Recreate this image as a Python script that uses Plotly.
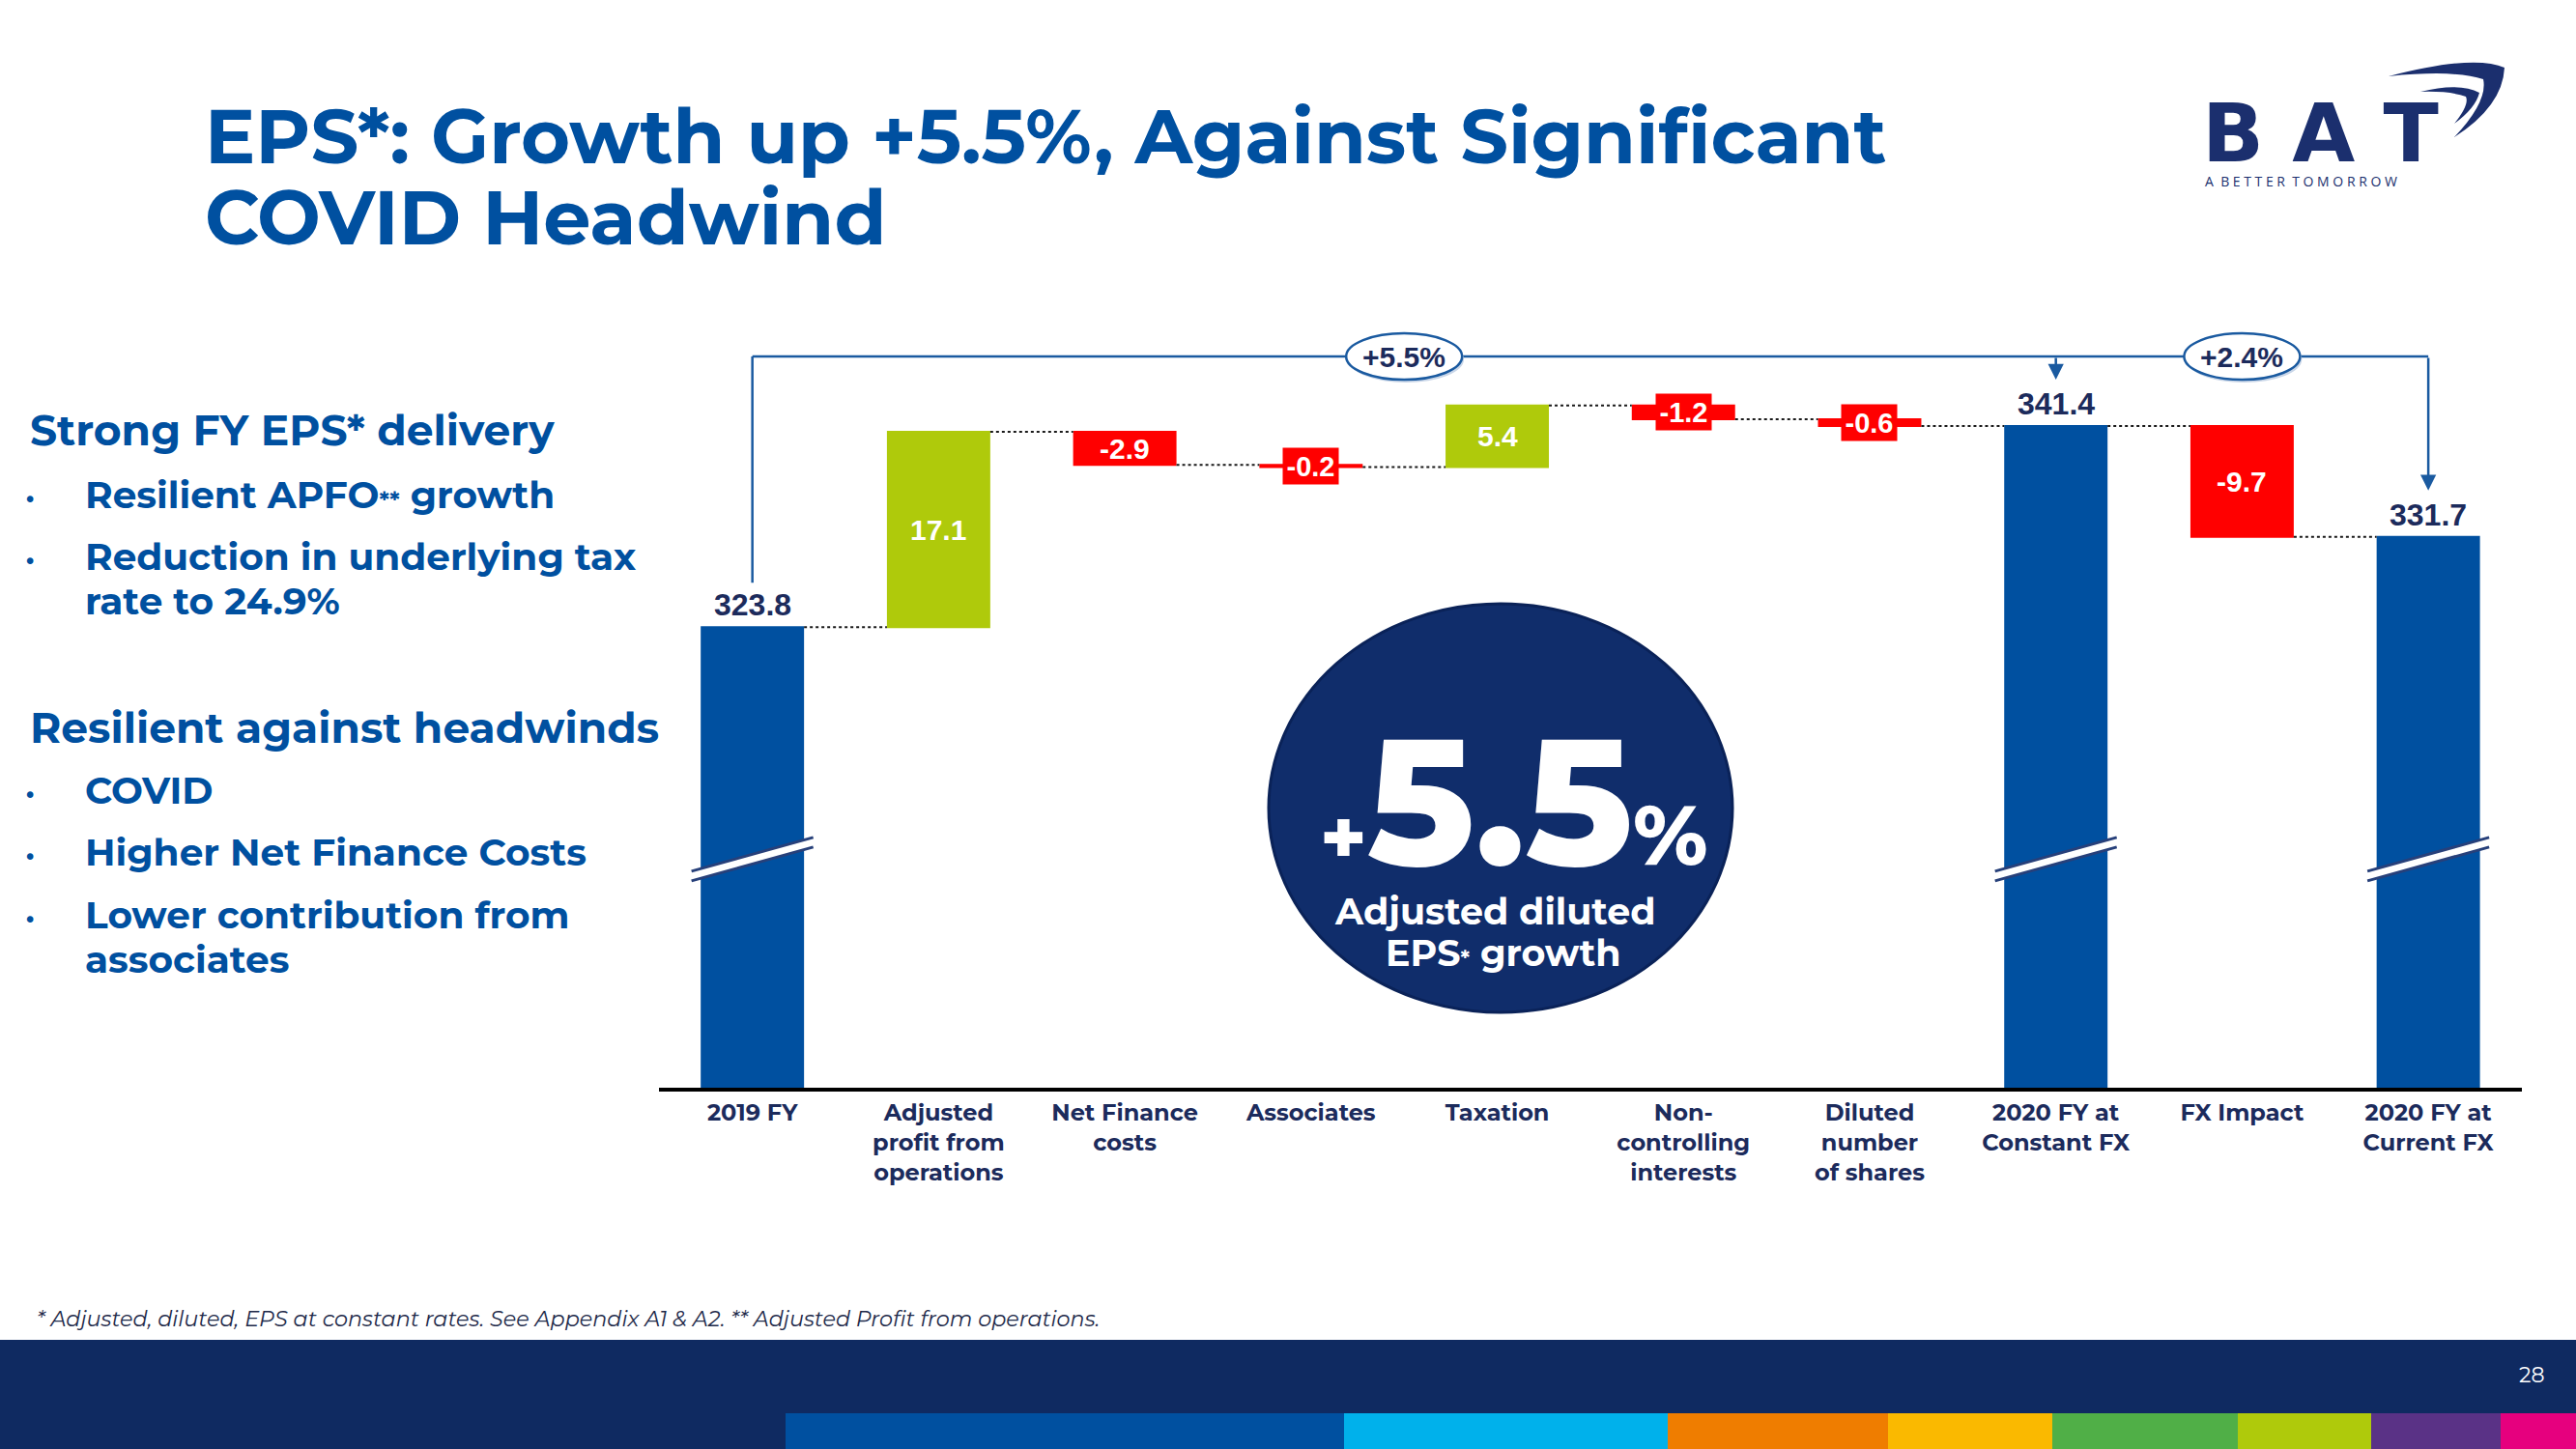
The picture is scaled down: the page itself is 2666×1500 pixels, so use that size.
import plotly.graph_objects as go

# ---------------- data ----------------
categories = ["2019 FY", "Adjusted<br>profit from<br>operations", "Net Finance<br>costs", "Associates",
              "Taxation", "Non-<br>controlling<br>interests", "Diluted<br>number<br>of shares",
              "2020 FY at<br>Constant FX", "FX Impact", "2020 FY at<br>Current FX"]
measures = ["absolute", "relative", "relative", "relative", "relative", "relative", "relative",
            "total", "relative", "total"]
values = [323.8, 17.1, -2.9, -0.2, 5.4, -1.2, -0.6, 341.4, -9.7, 331.7]
growth_labels = ["+5.5%", "+2.4%"]

title_lines = ["EPS*: Growth up +5.5%, Against Significant", "COVID Headwind"]
left_heads = ["Strong FY EPS* delivery", "Resilient against headwinds"]
footnote = "* Adjusted, diluted, EPS at constant rates. See Appendix A1 &amp; A2. ** Adjusted Profit from operations."

# ---------------- style ----------------
W, H = 2666, 1500
BLUE = "#0050a0"
LABEL_NAVY = "#1c2b5c"
LIME = "#afca0b"
RED = "#ff0000"
LINE_BLUE = "#1a5aa0"
FONT = "Montserrat, 'Open Sans', sans-serif"
NUMF = "'Liberation Sans Narrow', 'Liberation Sans', Arial, sans-serif"

PLOT_TOP, PLOT_BOT = 340, 1126      # pixel rows of the plot area
Y0, Y1 = 283.5, 349.94              # value range shown
UPP = (Y1 - Y0) / (PLOT_BOT - PLOT_TOP)  # value units per pixel
XL, XR = 682.3, 2609.5
XUPP = 10 / (XR - XL)


def px(x):
    return x / W


def py(y):
    return 1 - y / H


def note(x, y, text, font, xanchor="center", yanchor="middle", **kw):
    d = dict(x=x, y=y, xref="paper", yref="paper", text=text, showarrow=False,
             xanchor=xanchor, yanchor=yanchor, font=font)
    d.update(kw)
    return d


x_pos = list(range(len(categories)))

# cumulative levels
lo, hi, centers = [], [], []
cum = 0.0
for m, v in zip(measures, values):
    if m == "absolute":
        cum = v
        lo.append(0.0); hi.append(v); centers.append(v / 2)
    elif m == "total":
        lo.append(0.0); hi.append(cum); centers.append(cum / 2)
    else:
        start = cum
        cum = cum + v
        lo.append(start); hi.append(cum); centers.append(start + v / 2)

fig = go.Figure()
fig.add_trace(go.Waterfall(
    x=x_pos, y=values, measure=measures, width=0.555,
    increasing=dict(marker=dict(color=LIME, line=dict(width=0))),
    decreasing=dict(marker=dict(color=RED, line=dict(width=0))),
    totals=dict(marker=dict(color=BLUE, line=dict(width=0))),
    connector=dict(mode="between", line=dict(color="#1a1a1a", width=2, dash="dot")),
    textinfo="none", hoverinfo="skip", showlegend=False,
))

shapes = []
annotations = []

# ---- value labels ----
for i, (m, v) in enumerate(zip(measures, values)):
    if m in ("absolute", "total"):
        annotations.append(dict(x=i, y=hi[i], xref="x", yref="y", text=f"{hi[i]:.1f}",
                                showarrow=False, yshift=23, xanchor="center", yanchor="middle",
                                font=dict(family=NUMF, size=32, color=LABEL_NAVY, weight=700)))
    elif abs(v) < 1.5:
        annotations.append(dict(x=i, y=centers[i], xref="x", yref="y", text=f"{v:.1f}",
                                showarrow=False, bgcolor=RED, width=57, height=37, borderpad=0,
                                xanchor="center", yanchor="middle",
                                font=dict(family=NUMF, size=29, color="white", weight=700)))
    else:
        annotations.append(dict(x=i, y=centers[i], xref="x", yref="y", text=f"{v:.1f}",
                                showarrow=False, xanchor="center", yanchor="middle",
                                font=dict(family=NUMF, size=30, color="white", weight=700)))

# ---- axis-break marks on total bars ----
brk = 303.5
half_w = 63 * XUPP
rise = 17.5 * UPP
thick = 5 * UPP
for i, m in enumerate(measures):
    if m in ("absolute", "total"):
        xl, xr = i - half_w, i + half_w
        path = (f"M {xl},{brk - rise - thick} L {xr},{brk + rise - thick} "
                f"L {xr},{brk + rise + thick} L {xl},{brk - rise + thick} Z")
        shapes.append(dict(type="path", xref="x", yref="y", path=path,
                           fillcolor="white", line=dict(width=0), layer="above"))
        for s in (-1, 1):
            shapes.append(dict(type="line", xref="x", yref="y", x0=xl, x1=xr,
                               y0=brk - rise + s * thick, y1=brk + rise + s * thick,
                               line=dict(color="#27407a", width=3), layer="above"))

# ---- growth brackets ----
bracket_y = hi[7] + (441 - 369) * UPP
shapes.append(dict(type="line", xref="x", yref="y", x0=0, x1=0,
                   y0=hi[0] + 46 * UPP, y1=bracket_y, line=dict(color=LINE_BLUE, width=2.5)))
shapes.append(dict(type="line", xref="x", yref="y", x0=0, x1=9,
                   y0=bracket_y, y1=bracket_y, line=dict(color=LINE_BLUE, width=2.5)))
for idx in (7, 9):
    annotations.append(dict(x=idx, y=hi[idx] + 48 * UPP, ax=idx, ay=bracket_y, xref="x", yref="y",
                            axref="x", ayref="y", text="", showarrow=True, arrowhead=2,
                            arrowsize=1.3, arrowwidth=2.5, arrowcolor=LINE_BLUE, standoff=0))

ell_w = 60 * XUPP
ell_h = 24 * UPP
for xc, lab in zip((3.5, 8.0), growth_labels):
    shapes.append(dict(type="circle", xref="x", yref="y", x0=xc - ell_w + 0.01, x1=xc + ell_w + 0.01,
                       y0=bracket_y - ell_h - 3 * UPP, y1=bracket_y + ell_h - 3 * UPP,
                       fillcolor="#c9d6e8", line=dict(width=0)))
    shapes.append(dict(type="circle", xref="x", yref="y", x0=xc - ell_w, x1=xc + ell_w,
                       y0=bracket_y - ell_h, y1=bracket_y + ell_h,
                       fillcolor="white", line=dict(color=LINE_BLUE, width=2.5)))
    annotations.append(dict(x=xc, y=bracket_y, xref="x", yref="y", text=lab, showarrow=False,
                            xanchor="center", yanchor="middle",
                            font=dict(family=NUMF, size=30, color=LABEL_NAVY, weight=700)))

# ---- big circle ----
shapes.append(dict(type="circle", xref="paper", yref="paper", x0=px(1313), x1=px(1793),
                   y0=py(1048), y1=py(625), fillcolor="#102d6b", line=dict(color="#0a2258", width=3)))
annotations += [
    note(px(1566), py(829),
         "<span style='font-size:80px'>+</span>5.5<span style='font-size:86px'>%</span>",
         dict(family=FONT, size=184, color="white", weight=800)),
    note(px(1547), py(943), "Adjusted diluted", dict(family=FONT, size=38, color="white", weight=700)),
    note(px(1555), py(986), "EPS<span style='font-size:22px'>*</span> growth",
         dict(family=FONT, size=38, color="white", weight=700)),
]

# ---- title ----
for txt, yc in zip(title_lines, (141, 225)):
    annotations.append(note(px(210), py(yc), txt, dict(family=FONT, size=78, color=BLUE, weight=700),
                            xanchor="left"))

# ---- left commentary ----
left_items = [
    ("head", left_heads[0], 445),
    ("bullet", "Resilient APFO<span style='font-size:24px'>**</span> growth", 512),
    ("bullet", "Reduction in underlying tax", 576),
    ("cont", "rate to 24.9%", 622),
    ("head", left_heads[1], 753),
    ("bullet", "COVID", 818),
    ("bullet", "Higher Net Finance Costs", 882),
    ("bullet", "Lower contribution from", 947),
    ("cont", "associates", 993),
]
for kind, txt, yc in left_items:
    if kind == "head":
        annotations.append(note(px(29), py(yc), txt, dict(family=FONT, size=44, color=BLUE, weight=700),
                                xanchor="left"))
    else:
        annotations.append(note(px(86), py(yc), txt, dict(family=FONT, size=39, color=BLUE, weight=700),
                                xanchor="left"))
        if kind == "bullet":
            annotations.append(note(px(31), py(yc + 2), "·",
                                    dict(family=FONT, size=34, color=BLUE, weight=700)))

# ---- footnote / footer band ----
annotations.append(note(px(36), py(1365), footnote,
                        dict(family=FONT, size=22.3, color="#1e2a4a", style="italic"), xanchor="left"))
shapes.append(dict(type="rect", xref="paper", yref="paper", x0=0, x1=1, y0=0, y1=py(1387),
                   fillcolor="#0f2a61", line=dict(width=0), layer="below"))
stripe = [(813, 1391, "#0050a0"), (1391, 1726, "#00b1eb"), (1726, 1954, "#ef7d00"),
          (1954, 2124, "#fab900"), (2124, 2316, "#50af47"), (2316, 2454, "#afca0b"),
          (2454, 2588, "#5a3286"), (2588, 2666, "#e6007e")]
for a, b, c in stripe:
    shapes.append(dict(type="rect", xref="paper", yref="paper", x0=px(a), x1=px(b), y0=0, y1=py(1463),
                       fillcolor=c, line=dict(width=0), layer="below"))
annotations.append(note(px(2620), py(1423), "28", dict(family=FONT, size=22, color="white")))

# ---- logo ----
annotations.append(note(px(2401), py(138), "B A T",
                        dict(family="'DejaVu Sans', sans-serif", size=84, color="#1b2f6e", weight=700)))
annotations.append(note(px(2280), py(188), "A  B E T T E R  T O M O R R O W",
                        dict(family="'Open Sans', sans-serif", size=14, color="#1b2f6e"), xanchor="left"))

sw1 = (f"M {px(2472)},{py(79)} Q {px(2560)},{py(56)} {px(2592)},{py(70)} "
       f"Q {px(2590)},{py(110)} {px(2540)},{py(142)} "
       f"Q {px(2575)},{py(105)} {px(2570)},{py(82)} Q {px(2540)},{py(72)} {px(2472)},{py(79)} Z")
sw2 = (f"M {px(2505)},{py(95)} Q {px(2545)},{py(85)} {px(2566)},{py(96)} "
       f"Q {px(2562)},{py(112)} {px(2540)},{py(128)} "
       f"Q {px(2556)},{py(108)} {px(2552)},{py(100)} Q {px(2535)},{py(94)} {px(2505)},{py(95)} Z")
for p in (sw1, sw2):
    shapes.append(dict(type="path", xref="paper", yref="paper", path=p,
                       fillcolor="#1b2f6e", line=dict(width=0)))

fig.update_layout(
    width=W, height=H, margin=dict(l=0, r=0, t=0, b=0, pad=0),
    paper_bgcolor="white", plot_bgcolor="white", showlegend=False,
    xaxis=dict(domain=[px(XL), px(XR)], range=[-0.5, 9.5], tickvals=x_pos, ticktext=categories,
               showline=True, linecolor="black", linewidth=4, showgrid=False, zeroline=False,
               ticks="outside", ticklen=1, tickcolor="rgba(0,0,0,0)", fixedrange=True,
               tickfont=dict(family=FONT, size=24, color=LABEL_NAVY, weight=700)),
    yaxis=dict(domain=[py(PLOT_BOT), py(PLOT_TOP)], range=[Y0, Y1], visible=False, fixedrange=True),
    shapes=shapes, annotations=annotations,
)

fig.write_html("out.html", config={"displayModeBar": False},
               post_script="document.body.style.margin='0';document.body.style.overflow='hidden';")
